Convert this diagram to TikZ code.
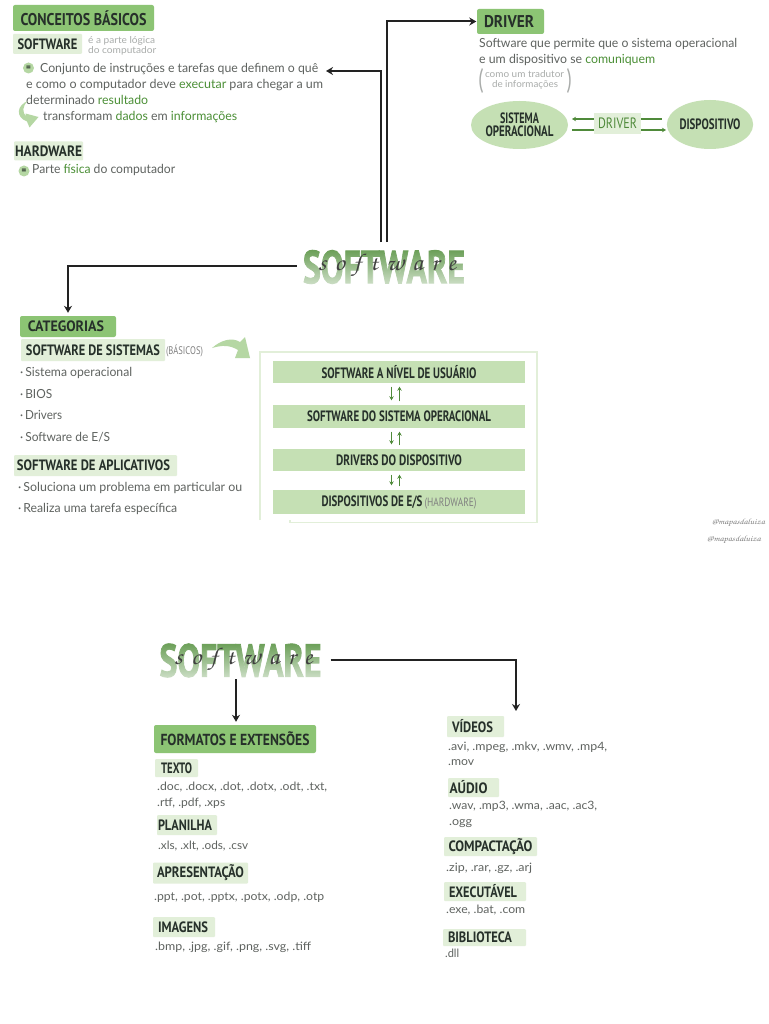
\documentclass[tikz,border=0pt]{standalone}
\usepackage{fontspec}
\usepackage{graphicx}
\usetikzlibrary{shapes.geometric,fadings,arrows.meta}
\newfontfamily\bdfont{Lato}
\newfontfamily\hdfont{PT Sans}
\newfontfamily\titlefont[FakeBold=2]{PT Sans}
\newcommand\cursivefont{\usefont{T1}{pzc}{mb}{it}}
\definecolor{hdink}{HTML}{26302A}
\definecolor{bodyink}{HTML}{5F6360}
\definecolor{softink}{HTML}{A9ACAA}
\definecolor{accent}{HTML}{4B8F36}
\definecolor{darkgreen}{HTML}{4F8A3A}
\definecolor{boxgreen}{HTML}{8CC474}
\definecolor{chipgreen}{HTML}{E2EFD9}
\definecolor{bargreen}{HTML}{C5E0B4}
\definecolor{midgreen}{HTML}{B5D7A3}
\definecolor{titlegreen}{HTML}{669C52}
\definecolor{connink}{HTML}{222222}
\newcommand\hdt[3][15]{\resizebox{#2pt}{\height}{\hdfont\bfseries\fontsize{#1}{#1}\selectfont\color{hdink}#3}}
\newcommand\bd[3][12.5]{\resizebox{#2pt}{\height}{\bdfont\fontsize{#1}{#1}\selectfont\color{bodyink}#3}}
\newcommand\sm[2]{\resizebox{#1pt}{\height}{\bdfont\fontsize{9.5}{9.5}\selectfont\color{softink}#2}}
\newcommand\grn[1]{{\color{accent}#1}}
\tikzfading[name=titlefade, top color=transparent!100, bottom color=transparent!30]
\tikzset{
  conn/.style={draw=connink,line width=2pt,-{Stealth[length=7pt,width=8pt]}},
  gconn/.style={draw=darkgreen,line width=1.5pt,-{Stealth[length=4pt,width=4.5pt]}},
  gline/.style={draw=darkgreen,line width=1.3pt},
  bigbox/.style={fill=boxgreen,rounded corners=2pt,inner sep=0pt,align=center},
  chip/.style={fill=chipgreen,inner sep=0pt,rounded corners=1pt},
  bar/.style={fill=bargreen,inner sep=0pt,minimum width=252pt},
  body/.style={anchor=base west,inner sep=0pt,yshift=-4.7pt},
  small/.style={anchor=base west,inner sep=0pt,yshift=-3.4pt},
  bullet/.style={circle,fill=midgreen,inner sep=0pt,minimum size=11pt,font=\hdfont\bfseries\fontsize{9}{9}\selectfont\color{hdink}},
  oval/.style={ellipse,fill=bargreen,inner sep=0pt,align=center},
  title/.style={inner sep=0pt,text=titlegreen},
  script/.style={inner sep=0pt,text=black!75},
  greenfill/.style={fill=midgreen,draw=none},
}
\newcommand\swtitle[2]{%
  \node[title] (#1) at (#2) {\resizebox{162pt}{33pt}{\titlefont\bfseries\fontsize{40}{40}\selectfont SOFTWARE}};
  \fill[white,path fading=titlefade] ([xshift=-2pt,yshift=2pt]#1.north west) rectangle ([xshift=2pt,yshift=-2pt]#1.south east);
  \node[script] (#1s) at ([xshift=3pt,yshift=1pt]#2) {\resizebox{138pt}{\height}{\cursivefont\fontsize{24}{24}\selectfont s\kern8pt o\kern8pt f\kern8pt t\kern8pt w\kern8pt a\kern8pt r\kern8pt e}};
}
\begin{document}
\begin{tikzpicture}[x=1pt,y=-1pt]
\useasboundingbox (0,0) rectangle (768,1024);
\fill[white] (0,0) rectangle (768,1024);

% ---- conceitos basicos
\node[bigbox,minimum width=141pt,minimum height=26pt] (conc) at (83.5,18) {\raisebox{-1.5pt}{\hdt[17]{126}{CONCEITOS BÁSICOS}}};
\node[chip,minimum width=69pt,minimum height=20pt] (swc) at (47.5,44) {\hdt{60}{SOFTWARE}};
\node[small] (sm1) at (88,40) {\sm{67}{é a parte lógica}};
\node[small] (sm2) at (88,50) {\sm{68}{do computador}};
\node[bullet] (b1) at (28.5,68) {=};
\node[body] (t1) at (40,68) {\bd{278}{Conjunto de instruções e tarefas que definem o quê}};
\node[body] (t2) at (26,84) {\bd{297}{e como o computador deve \grn{executar} para chegar a um}};
\node[body] (t3) at (26,100) {\bd{122}{determinado \grn{resultado}}};
\node[body] (t4) at (43,116) {\bd{194}{transformam \grn{dados} em \grn{informações}}};
\fill[greenfill] (28,101) .. controls (17,105) and (15,117) .. (27,121.5) -- (29.5,127.5) -- (38.5,117) -- (25.5,113.5) -- (26.5,116.5) .. controls (22,113) and (22,106) .. (28,101) -- cycle;
\node[chip,minimum width=69pt,minimum height=19pt] (hwc) at (48.5,151) {\hdt{67}{HARDWARE}};
\node[bullet] (b2) at (24,171) {=};
\node[body] (t5) at (32,169) {\bd{143}{Parte \grn{física} do computador}};

% ---- driver
\node[bigbox,minimum width=67pt,minimum height=25pt] (drv) at (510.5,21.5) {\hdt[17]{50}{DRIVER}\kern3pt};
\node[body] (d1) at (479,43) {\bd{258}{Software que permite que o sistema operacional}};
\node[body] (d2) at (479,59) {\bd{176}{e um dispositivo se \grn{comuniquem}}};
\node[inner sep=0pt,text=softink] (p1) at (481,81) {\resizebox{5pt}{21pt}{\bdfont (}};
\node[inner sep=0pt,text=softink] (p2) at (569,81) {\resizebox{5pt}{21pt}{\bdfont )}};
\node[small,anchor=base] (d3) at (524.5,74.5) {\sm{79}{como um tradutor}};
\node[small,anchor=base] (d4) at (525,84.5) {\sm{66}{de informações}};
\node[oval,minimum width=97pt,minimum height=48pt] (so) at (519.5,125) {\hdt{39}{SISTEMA}\\[1pt]\hdt{68}{OPERACIONAL}};
\node[oval,minimum width=84pt,minimum height=49pt] (dev) at (710,124.5) {\hdt{61}{DISPOSITIVO}};
\node[fill=chipgreen,inner sep=0pt,minimum width=47pt,minimum height=21pt] (drc) at (617.5,123.5) {\resizebox{39pt}{\height}{\hdfont\fontsize{15}{15}\selectfont\color{darkgreen}DRIVER}};
\coordinate (la) at (572,119);
\coordinate (lb) at (572,130);
\coordinate (ra) at (662,119);
\coordinate (rb) at (666,130);
\draw[gconn] (drc.west |- la) -- (la);
\draw[gline] (drc.west |- lb) -- (lb);
\draw[gline] (drc.east |- ra) -- (ra);
\draw[gconn] (drc.east |- rb) -- (rb);

% ---- titulo 1
\swtitle{swa}{384,267}
\coordinate (swaL) at (381,242);
\coordinate (swaR) at (387,242);
\coordinate (cTip) at (326,71);
\draw[conn] (swaL) |- (cTip);
\draw[conn] (swaR) |- ([xshift=-0.5pt]drv.west);

% ---- categorias
\node[bigbox,minimum width=96pt,minimum height=21pt] (cat) at (68,326.5) {\hdt[15]{76}{CATEGORIAS}\kern4pt};
\draw[conn] ([xshift=-6pt,yshift=1.3pt]swa.west) -| ([yshift=3pt]cat.north);
\node[chip,minimum width=144pt,minimum height=22pt] (sis) at (93,350) {\hdt{134}{SOFTWARE DE SISTEMAS}};
\node[inner sep=0pt] (bas) at (184.5,350.5) {\resizebox{37pt}{\height}{\hdfont\fontsize{11}{11}\selectfont\color{gray}(BÁSICOS)}};
\fill[greenfill] (212,348) .. controls (221,340) and (232,337) .. (240,342) -- (245,337) -- (250,358) -- (235,358) -- (238,350) .. controls (230,345) and (222,345) .. (212,348) -- cycle;
\node[body] (l1) at (20,372) {\bd{112}{·\,Sistema operacional}};
\node[body] (l2) at (20,394) {\bd{32}{·\,BIOS}};
\node[body] (l3) at (20,415) {\bd{42}{·\,Drivers}};
\node[body] (l4) at (20,437) {\bd{90}{·\,Software de E/S}};
\node[chip,minimum width=163pt,minimum height=21pt] (apl) at (95.5,465.5) {\hdt{153}{SOFTWARE DE APLICATIVOS}\kern4pt};
\node[body] (l5) at (18,487) {\bd{224}{·\,Soluciona um problema em particular ou}};
\node[body] (l6) at (18,508) {\bd{159}{·\,Realiza uma tarefa específica}};

% ---- camadas
\draw[chipgreen,line width=1.3pt] (260,520) -- (260,352) -- (537,352) -- (537,522.5) -- (290,522.5) -- (290,520);
\node[bar,minimum height=22pt] (b-a) at (399,372) {\hdt{155}{SOFTWARE A NÍVEL DE USUÁRIO}};
\node[bar,minimum height=23pt] (b-b) at (399,416.5) {\hdt{184}{SOFTWARE DO SISTEMA OPERACIONAL}};
\node[bar,minimum height=22pt] (b-c) at (399,460) {\hdt{126}{DRIVERS DO DISPOSITIVO}};
\node[bar,minimum height=24pt] (b-d) at (399,502) {\hdt{101}{DISPOSITIVOS DE E/S}\hspace{2pt}\resizebox{52pt}{\height}{\hdfont\fontsize{12}{12}\selectfont\color{gray}(HARDWARE)}};
\foreach \u/\v in {b-a/b-b,b-b/b-c,b-c/b-d}{
  \draw[gconn] ([xshift=-7.5pt,yshift=-3.5pt]\u.south) -- ([xshift=-7.5pt,yshift=4.5pt]\v.north);
  \draw[gconn] ([xshift=0.5pt,yshift=3.5pt]\v.north) -- ([xshift=0.5pt,yshift=-3.5pt]\u.south);
}

% ---- assinatura
\node[inner sep=0pt,anchor=east] (w1) at (765,523) {\resizebox{53pt}{\height}{\cursivefont\fontsize{8}{8}\selectfont\color{gray}@mapasdaluiza}};
\node[inner sep=0pt,anchor=east] (w2) at (761,540) {\resizebox{54pt}{\height}{\cursivefont\fontsize{8}{8}\selectfont\color{gray}@mapasdaluiza}};

% ---- titulo 2
\swtitle{swb}{240.5,660.5}
\node[bigbox,minimum width=162pt,minimum height=28pt] (fmt) at (235,739) {\hdt[16]{149}{FORMATOS E EXTENSÕES}};
\coordinate (swbD) at (236,679);
\draw[conn] (swbD) -- ([yshift=3pt]swbD |- fmt.north);
\coordinate (vidTip) at (516,711);
\draw[conn] ([xshift=9pt,yshift=0.5pt]swb.east) -| (vidTip);

\node[chip,minimum width=43pt,minimum height=18pt] (tx) at (176.5,768) {\hdt{31}{TEXTO}};
\node[body] (f1) at (157,786) {\bd[11.5]{170}{.doc, .docx, .dot, .dotx, .odt, .txt,}};
\node[body] (f2) at (157,802) {\bd[11.5]{68}{.rtf, .pdf, .xps}};
\node[chip,minimum width=60pt,minimum height=20pt] (pl) at (187,825) {\hdt{54}{PLANILHA}\kern4pt};
\node[body] (f3) at (158,845) {\bd[11.5]{90}{.xls, .xlt, .ods, .csv}};
\node[chip,minimum width=95pt,minimum height=21pt] (ap) at (200.5,873) {\hdt{87}{APRESENTAÇÃO}};
\node[body] (f4) at (154,896) {\bd[11.5]{170}{.ppt, .pot, .pptx, .potx, .odp, .otp}};
\node[chip,minimum width=62pt,minimum height=20pt] (im) at (184,927) {\hdt{50}{IMAGENS}\kern2pt};
\node[body] (f5) at (155,946) {\bd[11.5]{156}{.bmp, .jpg, .gif, .png, .svg, .tiff}};

\node[chip,minimum width=57pt,minimum height=21pt] (vi) at (475.5,726.5) {\hdt{41}{VÍDEOS}\kern6pt};
\node[body] (g1) at (448,746) {\bd[11.5]{159}{.avi, .mpeg, .mkv, .wmv, .mp4,}};
\node[body] (g2) at (448,761) {\bd[11.5]{26}{.mov}};
\node[chip,minimum width=51pt,minimum height=19pt] (au) at (473.5,787.5) {\hdt{38}{AÚDIO}\kern10pt};
\node[body] (g3) at (449,805) {\bd[11.5]{148}{.wav, .mp3, .wma, .aac, .ac3,}};
\node[body] (g4) at (449,821) {\bd[11.5]{23}{.ogg}};
\node[chip,minimum width=93pt,minimum height=19pt] (co) at (490.5,846.5) {\hdt{84}{COMPACTAÇÃO}};
\node[body] (g5) at (446,867) {\bd[11.5]{86}{.zip, .rar, .gz, .arj}};
\node[chip,minimum width=82pt,minimum height=19pt] (ex) at (485,891.5) {\hdt{68}{EXECUTÁVEL}\kern4pt};
\node[body] (g6) at (446,909) {\bd[11.5]{79}{.exe, .bat, .com}};
\node[chip,minimum width=83pt,minimum height=17pt] (bi) at (484.5,937.5) {\hdt{64}{BIBLIOTECA}\kern9pt};
\node[body] (g7) at (445,953) {\bd[11.5]{14}{.dll}};
\end{tikzpicture}
\end{document}
